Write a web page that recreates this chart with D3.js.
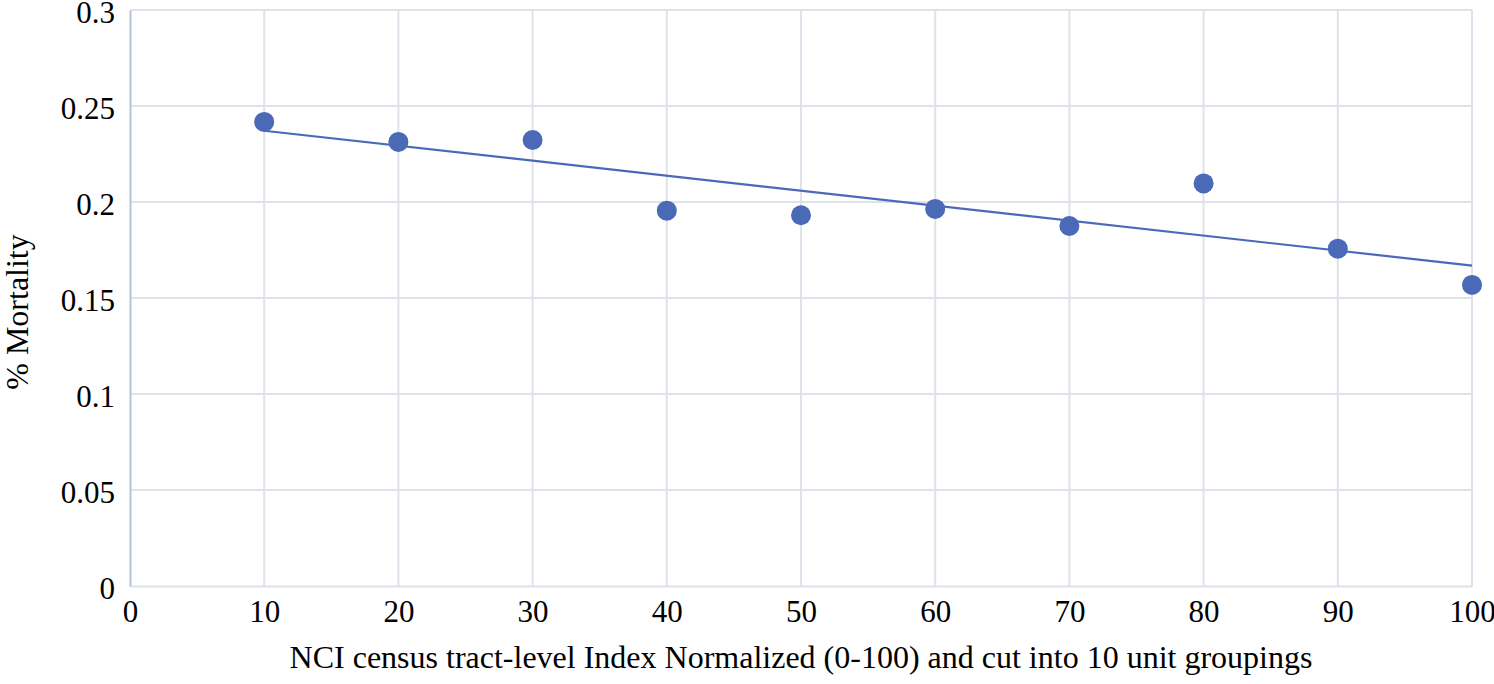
<!DOCTYPE html>
<html><head><meta charset="utf-8">
<script src="https://cdn.jsdelivr.net/npm/d3@7"></script>
<style>body{margin:0;background:#fff;} svg{display:block;} text{font-family:"Liberation Serif","Times New Roman",serif;fill:#000;}</style>
</head><body>
<svg id="c" width="1494" height="684"></svg>
<script>
const groups = [10, 20, 30, 40, 50, 60, 70, 80, 90, 100];
const mortality = [0.2417, 0.2313, 0.2323, 0.1955, 0.1931, 0.1964, 0.1875, 0.2097, 0.1757, 0.1568];
const xTicks = [0, 10, 20, 30, 40, 50, 60, 70, 80, 90, 100];
const yTicks = [0, 0.05, 0.1, 0.15, 0.2, 0.25, 0.3];
const xTitle = "NCI census tract-level Index Normalized (0-100) and cut into 10 unit groupings";
const yTitle = "% Mortality";

const FS = 31;
const svg = d3.select("#c");
const x = d3.scaleLinear().domain([0, 100]).range([130, 1472]);
const y = d3.scaleLinear().domain([0, 0.3]).range([586, 10]);

// gridlines
svg.append("g").selectAll("line").data(yTicks.filter(d => d > 0)).join("line")
  .attr("x1", x(0)).attr("x2", x(100)).attr("y1", d => y(d)).attr("y2", d => y(d))
  .attr("stroke", "#dfe2ea").attr("stroke-width", 2);
svg.append("g").selectAll("line").data(xTicks.filter(d => d > 0)).join("line")
  .attr("y1", y(0)).attr("y2", y(0.3)).attr("x1", d => x(d)).attr("x2", d => x(d))
  .attr("stroke", "#dfe2ea").attr("stroke-width", 2);

// axes
const xAxis = d3.axisBottom(x).tickValues(xTicks).tickSize(0).tickFormat(d3.format("d"));
const gx = svg.append("g").attr("transform", `translate(0,${y(0)})`).call(xAxis);
gx.attr("font-family", null);
gx.select(".domain").attr("stroke", "#dde1eb").attr("stroke-width", 2);
gx.selectAll("text").attr("font-size", FS).attr("y", 8).attr("dy", "0.9em");

const yAxis = d3.axisLeft(y).tickValues(yTicks).tickSize(0).tickFormat(d => d3.format("")(+d.toFixed(2)));
const gy = svg.append("g").attr("transform", `translate(${x(0)},0)`).call(yAxis);
gy.attr("font-family", null);
gy.select(".domain").attr("stroke", "#b7c2d9").attr("stroke-width", 2);
gy.selectAll("text").attr("font-size", FS).attr("x", -15).attr("dy", "0.4em");

// trendline (least squares)
const mx = d3.mean(groups), my = d3.mean(mortality);
let sxy = 0, sxx = 0;
groups.forEach((g, i) => { sxy += (g - mx) * (mortality[i] - my); sxx += (g - mx) ** 2; });
const slope = sxy / sxx, intercept = my - slope * mx;
const x0 = d3.min(groups), x1 = d3.max(groups);
svg.append("line")
  .attr("x1", x(x0)).attr("y1", y(intercept + slope * x0))
  .attr("x2", x(x1)).attr("y2", y(intercept + slope * x1))
  .attr("stroke", "#4a69b7").attr("stroke-width", 2.2);

// points
svg.append("g").selectAll("circle").data(groups).join("circle")
  .attr("cx", d => x(d)).attr("cy", (d, i) => y(mortality[i])).attr("r", 10)
  .attr("fill", "#4a69b7");

// titles
svg.append("text").attr("x", (x(0) + x(100)) / 2).attr("y", 668).attr("text-anchor", "middle")
  .attr("font-size", 32).text(xTitle);
svg.append("text").attr("transform", `translate(28,312) rotate(-90)`).attr("text-anchor", "middle")
  .attr("font-size", 32).text(yTitle);
</script>
</body></html>
